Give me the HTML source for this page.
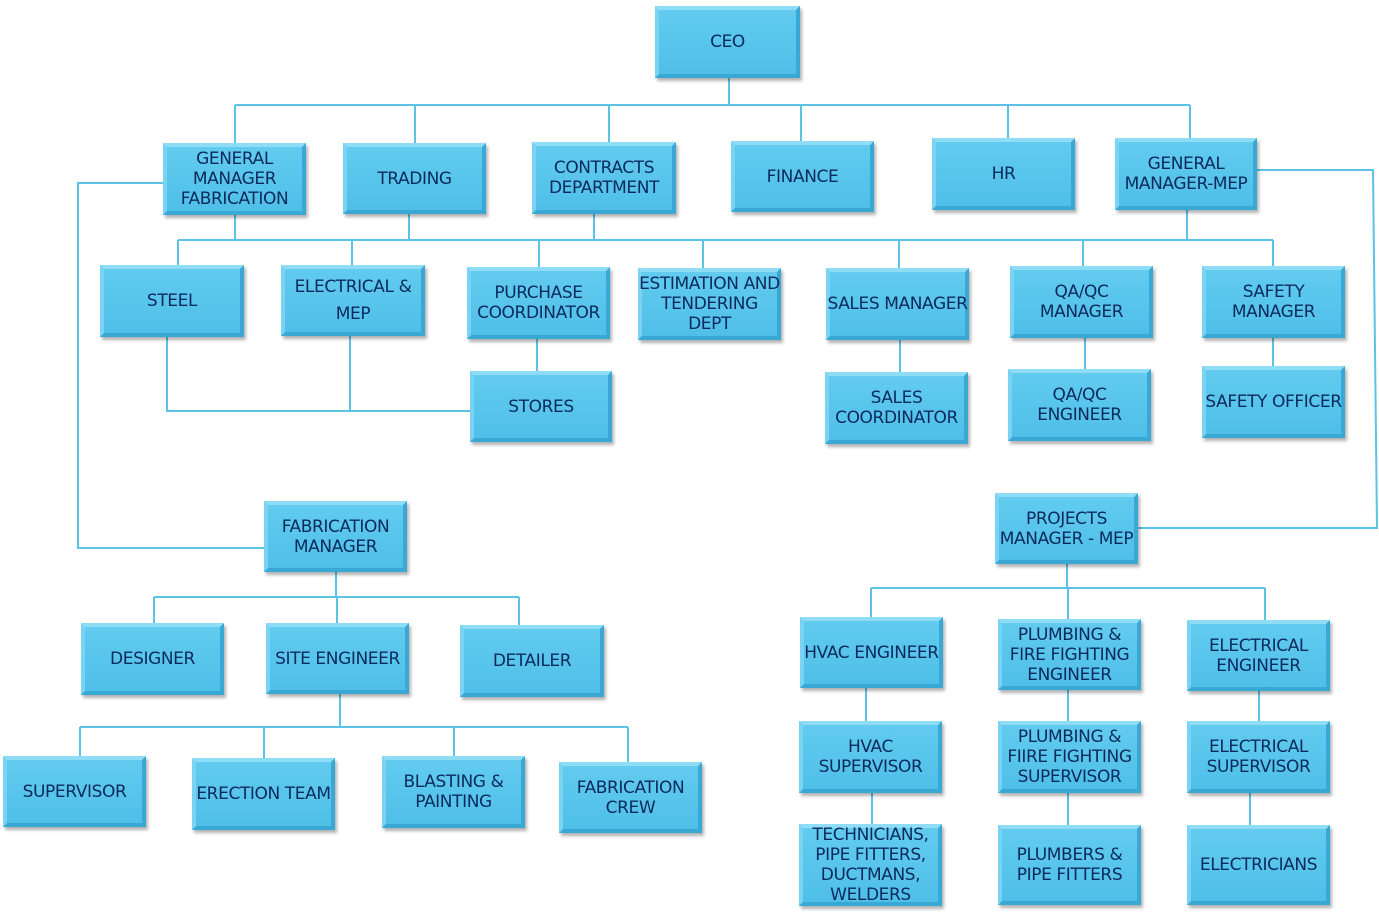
<!DOCTYPE html>
<html><head><meta charset="utf-8"><style>
body{margin:0;width:1379px;height:918px;background:#fff;position:relative;overflow:hidden;font-family:"DejaVu Sans","Liberation Sans",sans-serif}
.b{position:absolute;box-sizing:border-box;background:linear-gradient(#62cbef,#4fbfe8);border:4px solid;border-color:#8edcf6 #3aa8d4 #3aa8d4 #7ad3f2;box-shadow:2px 3px 3px rgba(0,0,0,.3);display:flex;align-items:center;justify-content:center;text-align:center;color:#0b2a5c;font-size:17px;line-height:20px;letter-spacing:-.4px;white-space:nowrap}
svg{position:absolute;left:0;top:0}
</style></head><body>
<svg width="1379" height="918" fill="none" stroke="#5cc3e6" stroke-width="2">
<path d="M729 78V105M235 105H1190M235 105V143M415 105V143M609 105V142M801 105V141M1008 105V138M1190 105V138"/>
<path d="M178 240H1273M235 215V240M409 214V240M594 214V240M1187 210V240M178 240V265M352 240V265M539 240V267M703 240V268M899 240V268M1083 240V266M1273 240V266"/>
<path d="M167 337V411H470M350 336V411M537 339V371M900 337V372M1085 338V369M1273 338V366"/>
<path d="M163 183H78V548H264M1257 170H1373L1377 528H1138"/>
<path d="M336 572V597M154 597H519M154 597V623M337 597V623M519 597V625M340 694V727M80 727H628M80 727V756M264 727V758M454 727V756M628 727V762"/>
<path d="M1067 564V588M871 588H1265M871 588V617M1068 588V619M1265 588V620M866 688V721M872 793V824M1068 690V721M1068 793V825M1259 691V721M1250 793V825"/>
</svg>
<div class="b" style="left:655px;top:6px;width:145px;height:72px">CEO</div>
<div class="b" style="left:163px;top:143px;width:143px;height:72px">GENERAL<br>MANAGER<br>FABRICATION</div>
<div class="b" style="left:343px;top:143px;width:143px;height:71px">TRADING</div>
<div class="b" style="left:532px;top:142px;width:144px;height:72px">CONTRACTS<br>DEPARTMENT</div>
<div class="b" style="left:731px;top:141px;width:143px;height:71px">FINANCE</div>
<div class="b" style="left:932px;top:138px;width:143px;height:72px">HR</div>
<div class="b" style="left:1115px;top:138px;width:142px;height:72px">GENERAL<br>MANAGER-MEP</div>
<div class="b" style="left:100px;top:265px;width:144px;height:72px">STEEL</div>
<div class="b" style="left:281px;top:265px;width:144px;height:71px;line-height:27px">ELECTRICAL &amp;<br>MEP</div>
<div class="b" style="left:467px;top:267px;width:143px;height:72px">PURCHASE<br>COORDINATOR</div>
<div class="b" style="left:638px;top:268px;width:143px;height:72px">ESTIMATION AND<br>TENDERING<br>DEPT</div>
<div class="b" style="left:826px;top:268px;width:143px;height:72px">SALES MANAGER</div>
<div class="b" style="left:1010px;top:266px;width:143px;height:72px">QA/QC<br>MANAGER</div>
<div class="b" style="left:1202px;top:266px;width:143px;height:72px">SAFETY<br>MANAGER</div>
<div class="b" style="left:470px;top:371px;width:142px;height:71px">STORES</div>
<div class="b" style="left:825px;top:372px;width:143px;height:72px">SALES<br>COORDINATOR</div>
<div class="b" style="left:1008px;top:369px;width:143px;height:72px">QA/QC<br>ENGINEER</div>
<div class="b" style="left:1202px;top:366px;width:143px;height:72px">SAFETY OFFICER</div>
<div class="b" style="left:264px;top:501px;width:143px;height:71px">FABRICATION<br>MANAGER</div>
<div class="b" style="left:995px;top:493px;width:143px;height:71px">PROJECTS<br>MANAGER - MEP</div>
<div class="b" style="left:81px;top:623px;width:143px;height:72px">DESIGNER</div>
<div class="b" style="left:266px;top:623px;width:143px;height:71px">SITE ENGINEER</div>
<div class="b" style="left:460px;top:625px;width:144px;height:72px">DETAILER</div>
<div class="b" style="left:800px;top:617px;width:143px;height:71px">HVAC ENGINEER</div>
<div class="b" style="left:998px;top:619px;width:143px;height:71px">PLUMBING &amp;<br>FIRE FIGHTING<br>ENGINEER</div>
<div class="b" style="left:1187px;top:620px;width:143px;height:71px">ELECTRICAL<br>ENGINEER</div>
<div class="b" style="left:3px;top:756px;width:143px;height:71px">SUPERVISOR</div>
<div class="b" style="left:192px;top:758px;width:143px;height:72px">ERECTION TEAM</div>
<div class="b" style="left:382px;top:756px;width:143px;height:72px">BLASTING &amp;<br>PAINTING</div>
<div class="b" style="left:559px;top:762px;width:143px;height:71px">FABRICATION<br>CREW</div>
<div class="b" style="left:799px;top:721px;width:143px;height:72px">HVAC<br>SUPERVISOR</div>
<div class="b" style="left:998px;top:721px;width:143px;height:72px">PLUMBING &amp;<br>FIIRE FIGHTING<br>SUPERVISOR</div>
<div class="b" style="left:1187px;top:721px;width:143px;height:72px">ELECTRICAL<br>SUPERVISOR</div>
<div class="b" style="left:799px;top:824px;width:143px;height:82px">TECHNICIANS,<br>PIPE FITTERS,<br>DUCTMANS,<br>WELDERS</div>
<div class="b" style="left:998px;top:825px;width:143px;height:80px">PLUMBERS &amp;<br>PIPE FITTERS</div>
<div class="b" style="left:1187px;top:825px;width:143px;height:80px">ELECTRICIANS</div>
</body></html>
